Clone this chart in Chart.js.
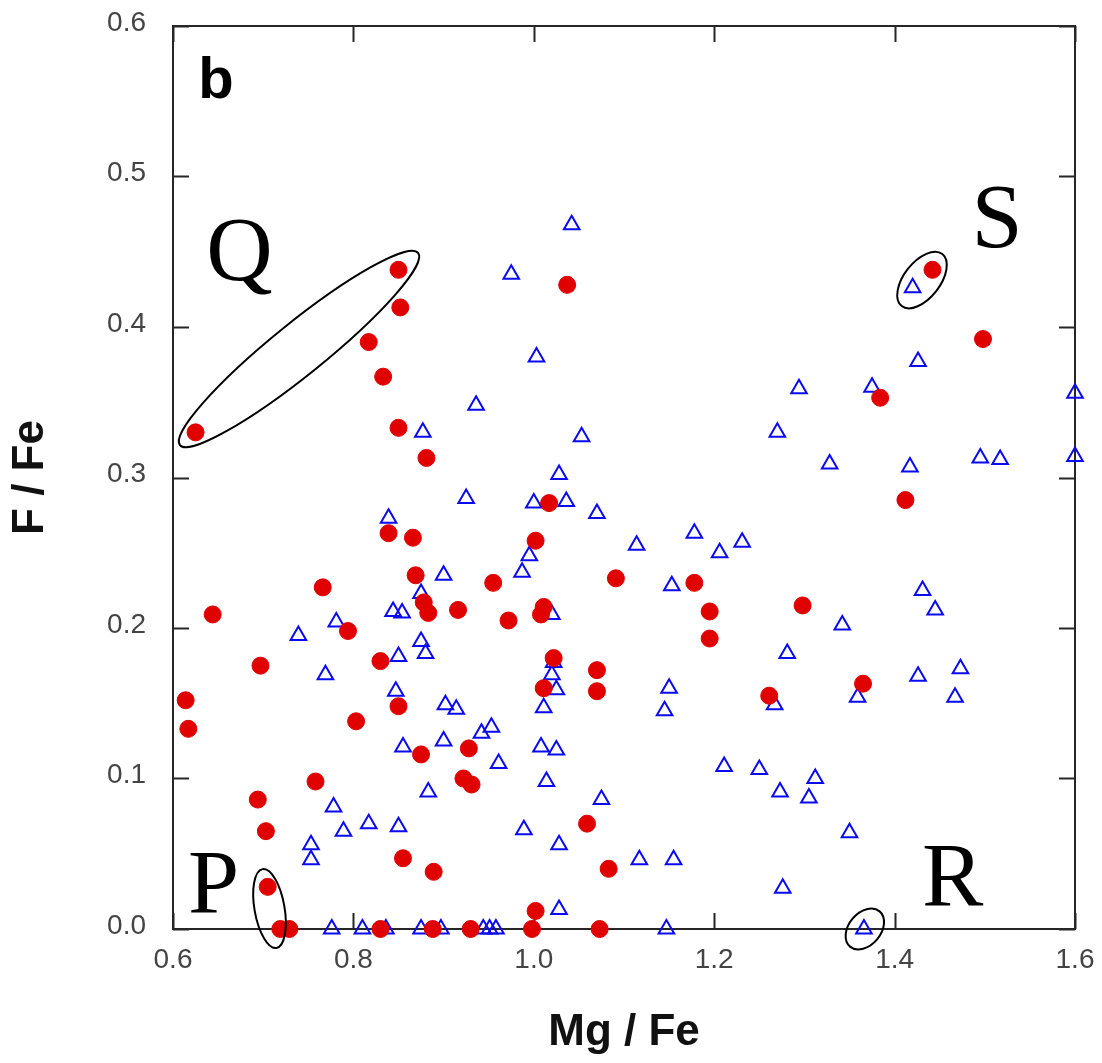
<!DOCTYPE html>
<html>
<head>
<meta charset="utf-8">
<script src="https://cdn.jsdelivr.net/npm/chart.js@4.4.1/dist/chart.umd.min.js"></script>
<style>
  html, body { margin: 0; padding: 0; background: #ffffff; }
  #wrap { width: 1102px; height: 1063px; }
</style>
</head>
<body>
<div id="wrap"><canvas id="c" width="1102" height="1063"></canvas></div>
<script>
// ---- Data ----
const redX = [0.625,0.850,0.852,0.817,0.833,0.850,0.881,1.037,1.442,1.498,1.384,1.412,1.017,0.839,0.866,1.002,0.869,1.091,0.766,0.955,1.178,0.878,0.883,0.916,1.011,1.008,0.972,0.644,0.794,1.195,1.195,1.298,1.022,0.830,0.697,1.070,1.070,1.011,1.261,1.365,0.614,0.617,0.850,0.803,0.928,0.875,0.922,0.931,0.758,0.694,0.703,0.855,0.889,1.059,1.083,0.705,1.002,0.719,0.729,0.830,0.888,0.930,0.998,1.073];
const redY = [0.330,0.438,0.413,0.390,0.367,0.333,0.313,0.428,0.438,0.392,0.353,0.285,0.283,0.263,0.260,0.258,0.235,0.233,0.227,0.230,0.230,0.217,0.210,0.212,0.214,0.209,0.205,0.209,0.198,0.211,0.193,0.215,0.180,0.178,0.175,0.172,0.158,0.160,0.155,0.163,0.152,0.133,0.148,0.138,0.120,0.116,0.100,0.096,0.098,0.086,0.065,0.047,0.038,0.070,0.040,0.028,0.012,0,0,0,0,0,0,0];

const blueX = [1.042,0.975,1.003,0.936,0.877,1.053,1.420,1.426,1.294,1.375,1.600,1.270,1.328,1.417,1.495,1.517,1.600,1.028,0.925,1.000,1.036,1.070,0.839,1.114,1.178,1.206,1.231,1.153,1.431,1.445,1.342,0.995,0.987,0.900,0.875,0.844,0.854,1.020,0.781,0.739,0.875,0.850,0.880,0.769,1.022,1.020,1.025,0.847,0.902,0.914,1.011,0.953,0.942,0.855,0.900,1.008,1.025,0.961,1.014,0.883,0.778,0.817,0.789,0.850,0.989,0.753,0.753,1.075,1.028,1.028,1.281,1.150,1.145,1.267,1.359,1.426,1.473,1.467,1.211,1.250,1.312,1.273,1.305,1.350,1.117,1.155,1.276,0.776,0.810,0.836,0.875,0.897,0.944,0.951,0.958,1.147,1.366];
const blueY = [0.468,0.435,0.380,0.348,0.330,0.327,0.426,0.377,0.359,0.360,0.356,0.330,0.309,0.307,0.313,0.312,0.314,0.302,0.286,0.283,0.284,0.276,0.273,0.255,0.263,0.250,0.257,0.228,0.225,0.212,0.202,0.248,0.237,0.235,0.223,0.211,0.210,0.209,0.204,0.195,0.191,0.181,0.183,0.169,0.177,0.169,0.159,0.158,0.149,0.146,0.147,0.134,0.130,0.121,0.125,0.121,0.119,0.110,0.098,0.091,0.081,0.070,0.065,0.068,0.066,0.056,0.046,0.086,0.056,0.013,0.183,0.160,0.145,0.149,0.154,0.168,0.173,0.154,0.108,0.106,0.100,0.091,0.087,0.064,0.046,0.046,0.027,0,0,0,0,0,0,0,0,0,0];

const xTickValues = [0.6, 0.8, 1.0, 1.2, 1.4, 1.6];
const xTickLabels = ['0.6', '0.8', '1.0', '1.2', '1.4', '1.6'];
const yTickValues = [0, 0.1, 0.2, 0.3, 0.4, 0.5, 0.6];
const yTickLabels = ['0.0', '0.1', '0.2', '0.3', '0.4', '0.5', '0.6'];

const xTitle = 'Mg / Fe';
const yTitle = 'F / Fe';
const panelLabel = 'b';

// annotation groups (centres in data units)
const groupEllipses = [
  { cx: 0.7397, cy: 0.3854, rx: 153, ry: 26, angle: -38.9 },
  { cx: 1.4304, cy: 0.4312, rx: 33, ry: 18, angle: -52 },
  { cx: 0.7070, cy: 0.0136, rx: 40, ry: 15, angle: 80 },
  { cx: 1.3670, cy: 0.0000, rx: 23, ry: 16, angle: -50 }
];
const groupLetters = ['Q', 'S', 'P', 'R'];
const groupLetterX = [0.6737, 1.5135, 0.6451, 1.4644];
const groupLetterY = [0.4312, 0.4532, 0.0106, 0.0153];
const panelLabelPos = { x: 0.6477, y: 0.5522 };

// ---- Chart ----
const toPoints = (xs, ys) => xs.map((x, i) => ({ x: x, y: ys[i] }));

const framePlugin = {
  id: 'frame',
  beforeDatasetsDraw(chart) {
    const { ctx, chartArea: a, scales } = chart;
    const x = scales.x, y = scales.y;
    ctx.save();
    ctx.strokeStyle = '#262626';
    ctx.lineWidth = 2;
    ctx.strokeRect(a.left, a.top, a.right - a.left, a.bottom - a.top);
    ctx.beginPath();
    const tl = 16;
    xTickValues.forEach(v => {
      const px = Math.round(x.getPixelForValue(v)) + 0.5;
      ctx.moveTo(px, a.bottom); ctx.lineTo(px, a.bottom - tl);
      ctx.moveTo(px, a.top); ctx.lineTo(px, a.top + tl);
    });
    yTickValues.forEach(v => {
      const py = Math.round(y.getPixelForValue(v)) + 0.5;
      ctx.moveTo(a.left, py); ctx.lineTo(a.left + tl, py);
      ctx.moveTo(a.right, py); ctx.lineTo(a.right - tl, py);
    });
    ctx.stroke();
    ctx.restore();
  },
  afterDatasetsDraw(chart) {
    const { ctx, scales } = chart;
    const x = scales.x, y = scales.y;
    ctx.save();
    ctx.strokeStyle = '#000000';
    ctx.lineWidth = 2;
    groupEllipses.forEach(e => {
      ctx.beginPath();
      ctx.ellipse(x.getPixelForValue(e.cx), y.getPixelForValue(e.cy), e.rx, e.ry, e.angle * Math.PI / 180, 0, Math.PI * 2);
      ctx.stroke();
    });
    ctx.fillStyle = '#000000';
    ctx.textAlign = 'center';
    ctx.textBaseline = 'alphabetic';
    ctx.font = '92px "Liberation Serif", "Times New Roman", serif';
    groupLetters.forEach((t, i) => {
      ctx.fillText(t, x.getPixelForValue(groupLetterX[i]), y.getPixelForValue(groupLetterY[i]));
    });
    ctx.font = 'bold 58px "Liberation Sans", Arial, sans-serif';
    ctx.fillText(panelLabel, x.getPixelForValue(panelLabelPos.x), y.getPixelForValue(panelLabelPos.y));
    ctx.restore();
  }
};

const tickFont = { family: '"Liberation Sans", Arial, sans-serif', size: 28 };
const titleFont = { family: '"Liberation Sans", Arial, sans-serif', size: 44, weight: 'bold' };

new Chart(document.getElementById('c'), {
  type: 'scatter',
  data: {
    datasets: [
      {
        label: 'red',
        data: toPoints(redX, redY),
        pointStyle: 'circle',
        pointRadius: 8.5,
        pointHoverRadius: 8.5,
        backgroundColor: '#e00000',
        borderColor: '#e00000',
        borderWidth: 1,
        clip: false
      },
      {
        label: 'blue',
        data: toPoints(blueX, blueY),
        pointStyle: 'triangle',
        pointRadius: 9,
        pointHoverRadius: 9,
        backgroundColor: 'rgba(0,0,0,0)',
        borderColor: '#0a0af0',
        borderWidth: 2,
        clip: false
      }
    ]
  },
  options: {
    responsive: false,
    animation: false,
    devicePixelRatio: 1,
    layout: { padding: { top: 26, right: 27, left: 0, bottom: 0 } },
    plugins: { legend: { display: false }, tooltip: { enabled: false } },
    events: [],
    scales: {
      x: {
        type: 'linear',
        position: 'bottom',
        min: 0.6,
        max: 1.6,
        grid: { display: false, drawTicks: false },
        border: { display: false },
        afterBuildTicks(scale) { scale.ticks = xTickValues.map(v => ({ value: v })); },
        afterFit(scale) { scale.height = 134; scale.paddingLeft = 0; scale.paddingRight = 0; },
        ticks: {
          color: '#444444',
          font: tickFont,
          padding: 14,
          maxRotation: 0,
          autoSkip: false,
          callback: (v) => { const i = xTickValues.findIndex(t => Math.abs(t - v) < 1e-9); return i >= 0 ? xTickLabels[i] : ''; }
        },
        title: { display: true, text: xTitle, color: '#111111', font: titleFont, padding: { top: 0, bottom: 4 } }
      },
      y: {
        type: 'linear',
        position: 'left',
        min: 0,
        max: 0.6,
        grid: { display: false, drawTicks: false },
        border: { display: false },
        afterBuildTicks(scale) { scale.ticks = yTickValues.map(v => ({ value: v })); },
        afterFit(scale) { scale.width = 173; scale.paddingTop = 0; scale.paddingBottom = 0; },
        ticks: {
          color: '#444444',
          font: tickFont,
          padding: 27,
          labelOffset: -3,
          autoSkip: false,
          callback: (v) => { const i = yTickValues.findIndex(t => Math.abs(t - v) < 1e-9); return i >= 0 ? yTickLabels[i] : ''; }
        },
        title: { display: true, text: yTitle, color: '#111111', font: titleFont, padding: { top: 4, bottom: 0 } }
      }
    }
  },
  plugins: [framePlugin]
});
</script>
</body>
</html>
